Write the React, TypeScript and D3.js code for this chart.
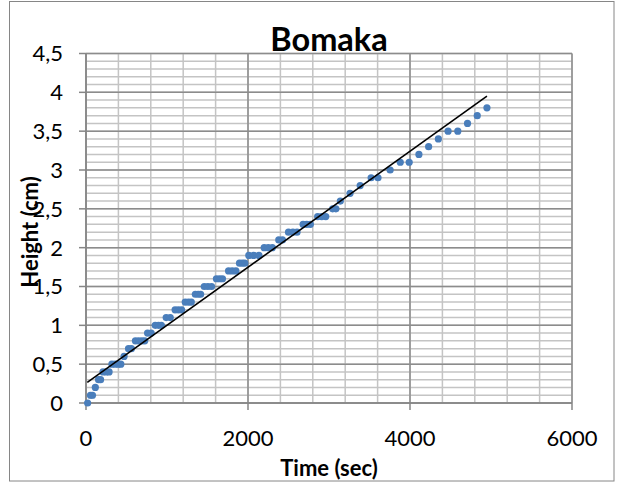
import React from "react";
import * as d3 from "d3";

// ---- data ----
const timeSec = [
  20, 55, 80, 115, 155, 180, 210, 250, 285, 320,
  360, 400, 430, 470, 525, 560, 610, 650, 690, 725,
  760, 805, 855, 895, 930, 990, 1040, 1100, 1140, 1180,
  1225, 1265, 1300, 1350, 1385, 1415, 1460, 1505, 1550, 1610,
  1650, 1685, 1760, 1805, 1850, 1895, 1930, 1960, 2010, 2070,
  2135, 2200, 2250, 2300, 2380, 2425, 2500, 2555, 2605, 2680,
  2725, 2770, 2860, 2910, 2960, 3045, 3085, 3140, 3260, 3385,
  3520, 3605, 3755, 3880, 3990, 4110, 4230, 4350, 4470, 4590,
  4710, 4830, 4950,
];
const heightCm = [
  0, 0.1, 0.1, 0.2, 0.3, 0.3, 0.4, 0.4, 0.4, 0.5,
  0.5, 0.5, 0.5, 0.6, 0.7, 0.7, 0.8, 0.8, 0.8, 0.8,
  0.9, 0.9, 1.0, 1.0, 1.0, 1.1, 1.1, 1.2, 1.2, 1.2,
  1.3, 1.3, 1.3, 1.4, 1.4, 1.4, 1.5, 1.5, 1.5, 1.6,
  1.6, 1.6, 1.7, 1.7, 1.7, 1.8, 1.8, 1.8, 1.9, 1.9,
  1.9, 2.0, 2.0, 2.0, 2.1, 2.1, 2.2, 2.2, 2.2, 2.3,
  2.3, 2.3, 2.4, 2.4, 2.4, 2.5, 2.5, 2.6, 2.7, 2.8,
  2.9, 2.9, 3.0, 3.1, 3.1, 3.2, 3.3, 3.4, 3.5, 3.5,
  3.6, 3.7, 3.8,
];
// linear trendline
const trendIntercept = 0.254;
const trendSlope = 0.000747;
const trendRange = [16, 4950];

const xTicks = [0, 2000, 4000, 6000];
const yTicks = [0, 0.5, 1, 1.5, 2, 2.5, 3, 3.5, 4, 4.5];
const xMinor = d3.range(0, 6001, 400);
const yMinor = d3.range(0, 46, 1).map((v) => v / 10);

const title = "Bomaka";
const xTitle = "Time (sec)";
const yTitle = "Height (cm)";

const W = 618;
const H = 484;
const plot = { left: 86, right: 572, top: 53.5, bottom: 403 };
const FONT = "Lato, 'Open Sans', sans-serif";

export default function App() {
  const x = d3.scaleLinear().domain([0, 6000]).range([plot.left, plot.right]);
  const y = d3.scaleLinear().domain([0, 4.5]).range([plot.bottom, plot.top]);
  const fmt = (v: number) => String(v).replace(".", ",");
  const line = d3
    .line<number>()
    .x((t) => x(t))
    .y((t) => y(trendIntercept + trendSlope * t));

  return (
    <svg
      width={W}
      height={H}
      style={{ position: "absolute", left: 0, top: 0, background: "#fff" }}
      fontFamily={FONT}
    >
      <rect x={9.5} y={1.5} width={604.5} height={479.5} fill="#fff" stroke="#868686" strokeWidth={1} />
      {/* minor gridlines */}
      {yMinor.map((v, i) => (
        <line key={"ym" + i} x1={plot.left} x2={plot.right} y1={y(v)} y2={y(v)} stroke="#c4c4c4" strokeWidth={1.5} />
      ))}
      {xMinor.map((v, i) => (
        <line key={"xm" + i} x1={x(v)} x2={x(v)} y1={plot.top} y2={plot.bottom} stroke="#c4c4c4" strokeWidth={1.5} />
      ))}
      {/* major gridlines */}
      {yTicks.map((v, i) => (
        <line key={"yM" + i} x1={plot.left} x2={plot.right} y1={y(v)} y2={y(v)} stroke="#8c8c8c" strokeWidth={1.5} />
      ))}
      {xTicks.map((v, i) => (
        <line key={"xM" + i} x1={x(v)} x2={x(v)} y1={plot.top} y2={plot.bottom} stroke="#8c8c8c" strokeWidth={1.5} />
      ))}
      {/* axes */}
      <line x1={plot.left} x2={plot.left} y1={plot.top} y2={plot.bottom} stroke="#868686" strokeWidth={1.5} />
      <line x1={plot.left} x2={plot.right} y1={plot.bottom} y2={plot.bottom} stroke="#868686" strokeWidth={1.5} />
      {yTicks.map((v, i) => (
        <g key={"yt" + i}>
          <line x1={plot.left - 7} x2={plot.left} y1={y(v)} y2={y(v)} stroke="#868686" strokeWidth={1.5} />
          <text x={plot.left - 23} y={y(v)} dy="0.36em" textAnchor="end" fontSize={22} fill="#000">
            {fmt(v)}
          </text>
        </g>
      ))}
      {xTicks.map((v, i) => (
        <g key={"xt" + i}>
          <line x1={x(v)} x2={x(v)} y1={plot.bottom} y2={plot.bottom + 7} stroke="#868686" strokeWidth={1.5} />
          <text x={x(v)} y={plot.bottom + 43} textAnchor="middle" fontSize={22} fill="#000">
            {fmt(v)}
          </text>
        </g>
      ))}
      {/* points */}
      {timeSec.map((t, i) => (
        <circle key={"p" + i} cx={x(t)} cy={y(heightCm[i])} r={3.6} fill="#4a7ebb" />
      ))}
      {/* trendline */}
      <path d={line(trendRange) || ""} fill="none" stroke="#000" strokeWidth={1.6} />
      {/* titles */}
      <text x={329} y={51} textAnchor="middle" fontSize={32.5} fontWeight="bold" fill="#000">
        {title}
      </text>
      <text x={329} y={476} textAnchor="middle" fontSize={22} fontWeight="bold" fill="#000">
        {xTitle}
      </text>
      <text
        transform={`translate(38, 232) rotate(-90)`}
        textAnchor="middle"
        fontSize={22}
        fontWeight="bold"
        fill="#000"
      >
        {yTitle}
      </text>
    </svg>
  );
}
